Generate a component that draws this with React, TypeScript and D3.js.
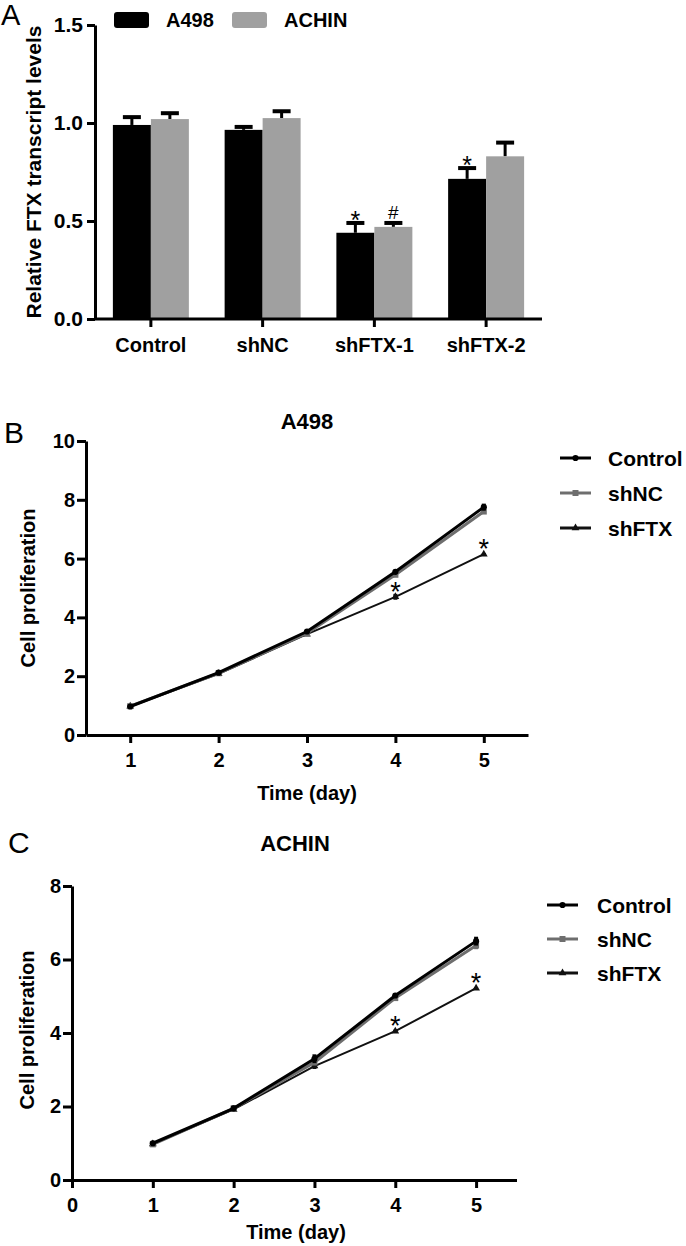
import React, { useEffect, useRef } from "react";
import * as d3 from "d3";

const FONT = "'Liberation Sans', Arial, sans-serif";

// ---- panel A data ----
const barCategories = ["Control", "shNC", "shFTX-1", "shFTX-2"];
const barSeries = ["A498", "ACHIN"];
const a498Values = [0.99, 0.965, 0.44, 0.715];
const a498Errors = [0.04, 0.015, 0.05, 0.055];
const achinValues = [1.02, 1.025, 0.47, 0.83];
const achinErrors = [0.03, 0.035, 0.02, 0.07];
const a498Marks = ["", "", "*", "*"];
const achinMarks = ["", "", "#", ""];
const barTicks = [0, 0.5, 1.0, 1.5];

// ---- panels B / C data ----
const days = [1, 2, 3, 4, 5];
const lineSeries = ["Control", "shNC", "shFTX"];

const a498Control = [0.97, 2.12, 3.52, 5.55, 7.75];
const a498ControlErr = [0.03, 0.05, 0.04, 0.05, 0.12];
const a498ShNC = [0.98, 2.1, 3.46, 5.45, 7.6];
const a498ShNCErr = [0.03, 0.08, 0.05, 0.05, 0.08];
const a498ShFTX = [0.98, 2.08, 3.43, 4.7, 6.15];
const a498ShFTXErr = [0.03, 0.04, 0.05, 0.1, 0.04];
const a498Marks2 = ["", "", "", "*", "*"];
const a498Ticks = [0, 2, 4, 6, 8, 10];

const achinControl = [1.0, 1.95, 3.3, 5.02, 6.5];
const achinControlErr = [0.03, 0.07, 0.12, 0.05, 0.12];
const achinShNC = [0.97, 1.95, 3.2, 4.95, 6.38];
const achinShNCErr = [0.03, 0.07, 0.08, 0.06, 0.1];
const achinShFTX = [0.98, 1.92, 3.1, 4.05, 5.22];
const achinShFTXErr = [0.02, 0.04, 0.08, 0.04, 0.03];
const achinMarks2 = ["", "", "", "*", "*"];
const achinTicks = [0, 2, 4, 6, 8];

function styleAxis(g: any, width = 3, fs = 20) {
  g.select(".domain").attr("stroke", "#000").attr("stroke-width", width);
  g.selectAll(".tick line").attr("stroke", "#000").attr("stroke-width", width);
  g.selectAll(".tick text")
    .attr("fill", "#000")
    .attr("font-family", FONT)
    .attr("font-size", fs)
    .attr("font-weight", 700);
}

function drawBars(svg: any) {
  const root = svg.append("g");
  const x0 = d3
    .scaleBand()
    .domain(barCategories)
    .range([95, 542])
    .paddingInner(0.32)
    .paddingOuter(0.16);
  const x1 = d3.scaleBand().domain(barSeries).range([0, x0.bandwidth()]);
  const y = d3.scaleLinear().domain([0, 1.5]).range([319, 25]);

  const rows = barCategories.map((c, i) => ({
    c,
    items: [
      { s: "A498", v: a498Values[i], e: a498Errors[i], m: a498Marks[i], fill: "#000" },
      { s: "ACHIN", v: achinValues[i], e: achinErrors[i], m: achinMarks[i], fill: "#a0a0a0" },
    ],
  }));

  const grp = root
    .selectAll("g.grp")
    .data(rows)
    .join("g")
    .attr("class", "grp")
    .attr("transform", (d: any) => `translate(${x0(d.c)},0)`);

  const item = grp
    .selectAll("g.it")
    .data((d: any) => d.items)
    .join("g")
    .attr("class", "it");

  const cx = (d: any) => x1(d.s)! + x1.bandwidth() / 2;

  // error bars (upper only)
  item
    .append("line")
    .attr("x1", cx)
    .attr("x2", cx)
    .attr("y1", (d: any) => y(d.v))
    .attr("y2", (d: any) => y(d.v + d.e))
    .attr("stroke", "#000")
    .attr("stroke-width", 3);
  item
    .append("line")
    .attr("x1", (d: any) => cx(d) - 9)
    .attr("x2", (d: any) => cx(d) + 9)
    .attr("y1", (d: any) => y(d.v + d.e))
    .attr("y2", (d: any) => y(d.v + d.e))
    .attr("stroke", "#000")
    .attr("stroke-width", 4);

  item
    .append("rect")
    .attr("x", (d: any) => x1(d.s)!)
    .attr("y", (d: any) => y(d.v))
    .attr("width", x1.bandwidth())
    .attr("height", (d: any) => y(0) - y(d.v))
    .attr("fill", (d: any) => d.fill);

  // "*" glyph sits high in the em box, "#" sits on the baseline
  item
    .append("text")
    .attr("x", cx)
    .attr("y", (d: any) => (d.m === "#" ? y(d.v + d.e) - 4 : y(d.v + d.e) + 6))
    .attr("text-anchor", "middle")
    .attr("font-family", FONT)
    .attr("font-size", (d: any) => (d.m === "#" ? 19 : 25))
    .text((d: any) => d.m);

  const gx = root
    .append("g")
    .attr("transform", "translate(0,319)")
    .call(d3.axisBottom(x0).tickSize(8).tickSizeOuter(0).tickPadding(11));
  styleAxis(gx);
  gx.select(".domain").attr("d", "M95,0H542");

  const gy = root
    .append("g")
    .attr("transform", "translate(95,0)")
    .call(
      d3
        .axisLeft(y)
        .tickValues(barTicks)
        .tickFormat(d3.format(".1f"))
        .tickSize(8)
        .tickSizeOuter(0)
        .tickPadding(4)
    );
  styleAxis(gy, 3, 21);

  root
    .append("text")
    .attr("transform", "translate(41,172) rotate(-90)")
    .attr("text-anchor", "middle")
    .attr("font-family", FONT)
    .attr("font-size", 21)
    .attr("font-weight", 700)
    .text("Relative FTX transcript levels");

  // legend
  const leg = root
    .selectAll("g.leg")
    .data(barSeries)
    .join("g")
    .attr("class", "leg")
    .attr("transform", (d: any, i: number) => `translate(${114 + i * 118},12)`);
  leg
    .append("rect")
    .attr("width", 35)
    .attr("height", 16)
    .attr("rx", 3)
    .attr("fill", (d: any, i: number) => (i === 0 ? "#000" : "#a0a0a0"));
  leg
    .append("text")
    .attr("x", 52)
    .attr("y", 8)
    .attr("dy", "0.36em")
    .attr("font-family", FONT)
    .attr("font-size", 20)
    .attr("font-weight", 700)
    .text((d: any) => d);

  root
    .append("text")
    .attr("x", 1)
    .attr("y", 25)
    .attr("font-family", FONT)
    .attr("font-size", 29)
    .text("A");
}

function drawLines(svg: any, cfg: any) {
  const root = svg.append("g");
  const x = d3.scaleLinear().domain(cfg.xDomain).range(cfg.xRange);
  const y = d3.scaleLinear().domain(cfg.yDomain).range(cfg.yRange);

  const styles: any = {
    Control: { color: "#000", width: 3, shape: d3.symbolCircle, size: 30 },
    shNC: { color: "#6e6e6e", width: 3, shape: d3.symbolSquare, size: 36 },
    shFTX: { color: "#111", width: 2, shape: d3.symbolTriangle, size: 26 },
  };

  const series = lineSeries.map((s, i) => ({
    s,
    vals: cfg.values[i],
    errs: cfg.errors[i],
  }));

  const line = d3
    .line<number>()
    .x((d, i) => x(days[i]))
    .y((d) => y(d));

  const drawOrder = [series[2], series[1], series[0]];
  drawOrder.forEach((sr: any) => {
    const st = styles[sr.s];
    const g = root.append("g");
    g.append("path")
      .attr("d", line(sr.vals))
      .attr("fill", "none")
      .attr("stroke", st.color)
      .attr("stroke-width", st.width);
    g.selectAll("line.err")
      .data(sr.vals)
      .join("line")
      .attr("class", "err")
      .attr("x1", (d: any, i: number) => x(days[i]))
      .attr("x2", (d: any, i: number) => x(days[i]))
      .attr("y1", (d: any, i: number) => y(d - sr.errs[i]))
      .attr("y2", (d: any, i: number) => y(d + sr.errs[i]))
      .attr("stroke", st.color)
      .attr("stroke-width", 4);
    g.selectAll("path.mk")
      .data(sr.vals)
      .join("path")
      .attr("class", "mk")
      .attr("d", d3.symbol().type(st.shape).size(st.size)())
      .attr(
        "transform",
        (d: any, i: number) => `translate(${x(days[i])},${y(d)})`
      )
      .attr("fill", st.color);
  });

  // significance marks above shFTX
  root
    .selectAll("text.sig")
    .data(cfg.marks)
    .join("text")
    .attr("class", "sig")
    .attr("x", (d: any, i: number) => x(days[i]))
    .attr("y", (d: any, i: number) => y(cfg.values[2][i]) + 4)
    .attr("text-anchor", "middle")
    .attr("font-family", FONT)
    .attr("font-size", 27)
    .text((d: any) => d);

  const gx = root
    .append("g")
    .attr("transform", `translate(0,${cfg.yRange[0]})`)
    .call(
      d3
        .axisBottom(x)
        .tickValues(cfg.xTicks)
        .tickFormat(d3.format("d"))
        .tickSize(8)
        .tickSizeOuter(0)
        .tickPadding(10)
    );
  styleAxis(gx);

  const gy = root
    .append("g")
    .attr("transform", `translate(${cfg.xRange[0]},0)`)
    .call(
      d3
        .axisLeft(y)
        .tickValues(cfg.yTicks)
        .tickFormat(d3.format("d"))
        .tickSize(9)
        .tickSizeOuter(0)
        .tickPadding(2)
    );
  styleAxis(gy);

  root
    .append("text")
    .attr("transform", `translate(${cfg.yLabelX},${cfg.yLabelY}) rotate(-90)`)
    .attr("text-anchor", "middle")
    .attr("font-family", FONT)
    .attr("font-size", 20)
    .attr("font-weight", 700)
    .text("Cell proliferation");

  root
    .append("text")
    .attr("x", cfg.xLabelX)
    .attr("y", cfg.xLabelY)
    .attr("text-anchor", "middle")
    .attr("dy", "0.36em")
    .attr("font-family", FONT)
    .attr("font-size", 20)
    .attr("font-weight", 700)
    .text("Time (day)");

  root
    .append("text")
    .attr("x", cfg.titleX)
    .attr("y", cfg.titleY)
    .attr("text-anchor", "middle")
    .attr("dy", "0.36em")
    .attr("font-family", FONT)
    .attr("font-size", 22)
    .attr("font-weight", 700)
    .text(cfg.title);

  root
    .append("text")
    .attr("x", cfg.letterX)
    .attr("y", cfg.letterY)
    .attr("font-family", FONT)
    .attr("font-size", 30)
    .text(cfg.letter);

  // legend
  const leg = root
    .selectAll("g.leg")
    .data(lineSeries)
    .join("g")
    .attr("class", "leg")
    .attr(
      "transform",
      (d: any, i: number) => `translate(${cfg.legX},${cfg.legY + i * cfg.legStep})`
    );
  leg
    .append("line")
    .attr("x1", 0)
    .attr("x2", 31)
    .attr("stroke", (d: any) => styles[d].color)
    .attr("stroke-width", 3);
  leg
    .append("path")
    .attr("transform", "translate(15.5,0)")
    .attr("d", (d: any) => d3.symbol().type(styles[d].shape).size(styles[d].size)())
    .attr("fill", (d: any) => styles[d].color);
  leg
    .append("text")
    .attr("x", cfg.legTextDx)
    .attr("dy", "0.36em")
    .attr("font-family", FONT)
    .attr("font-size", 21)
    .attr("font-weight", 700)
    .text((d: any) => d);
}

export default function App() {
  const svgRef = useRef<SVGSVGElement>(null);

  useEffect(() => {
    const svg = d3.select(svgRef.current);
    svg.selectAll("*").remove();
    svg.append("rect").attr("width", 686).attr("height", 1246).attr("fill", "#fff");

    drawBars(svg);

    drawLines(svg, {
      xDomain: [0.5, 5.5],
      xRange: [86, 528],
      yDomain: [0, 10],
      yRange: [735, 441],
      xTicks: days,
      yTicks: a498Ticks,
      values: [a498Control, a498ShNC, a498ShFTX],
      errors: [a498ControlErr, a498ShNCErr, a498ShFTXErr],
      marks: a498Marks2,
      title: "A498",
      titleX: 307,
      titleY: 421,
      letter: "B",
      letterX: 4,
      letterY: 443,
      yLabelX: 35,
      yLabelY: 588,
      xLabelX: 307,
      xLabelY: 793,
      legX: 560,
      legY: 458,
      legStep: 35,
      legTextDx: 48,
    });

    drawLines(svg, {
      xDomain: [0, 5.5],
      xRange: [72, 516.5],
      yDomain: [0, 8],
      yRange: [1180, 886],
      xTicks: [0, ...days],
      yTicks: achinTicks,
      values: [achinControl, achinShNC, achinShFTX],
      errors: [achinControlErr, achinShNCErr, achinShFTXErr],
      marks: achinMarks2,
      title: "ACHIN",
      titleX: 295,
      titleY: 843,
      letter: "C",
      letterX: 8,
      letterY: 853,
      yLabelX: 34,
      yLabelY: 1030,
      xLabelX: 296,
      xLabelY: 1232,
      legX: 547,
      legY: 905,
      legStep: 34,
      legTextDx: 50,
    });
  }, []);

  return (
    <svg
      ref={svgRef}
      width={686}
      height={1246}
      style={{ position: "absolute", left: 0, top: 0, display: "block" }}
    />
  );
}
